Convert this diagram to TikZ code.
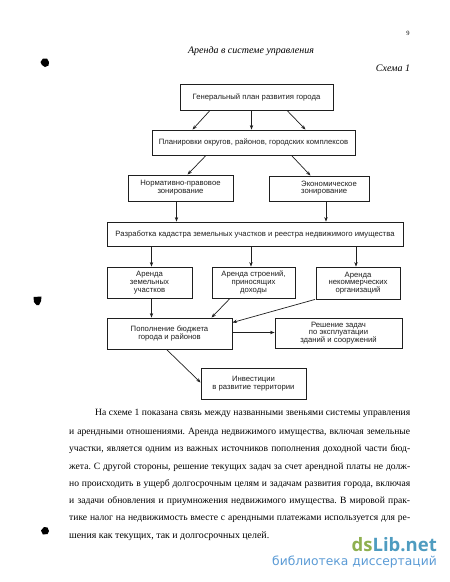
\documentclass[tikz,border=0pt]{standalone}
\usepackage{fontspec}
\setmainfont{Liberation Serif}
\newfontfamily\boxfont{Liberation Sans}
\newfontfamily\markfont{Open Sans}
\newfontfamily\subfont{DejaVu Sans}
\usetikzlibrary{arrows.meta}
\definecolor{markgreen}{HTML}{8FB050}
\definecolor{markblue}{HTML}{4F9CC0}
\definecolor{marksub}{HTML}{5B9BD5}
\definecolor{inkgrey}{gray}{0.12}
\tikzset{
	planbox/.style={rectangle, draw=inkgrey, line width=0.85pt, inner sep=0pt, align=center, font=\boxfont\fontsize{7.7}{7.8}\selectfont, text=inkgrey, fill=white},
	planarrow/.style={draw=inkgrey, line width=0.7pt, -{Stealth[length=4.5pt, width=3.4pt]}},
	blob/.style={fill=black},
}
\frenchspacing
\begin{document}
\begin{tikzpicture}[x=1pt, y=-1pt]

	\useasboundingbox (0, 0) rectangle (450, 582);

	% page head
	\node (pagenum) at (408, 33) {\fontsize{6.5}{8}\selectfont 9};
	\node (head) at (251, 51) {\fontsize{10}{12}\selectfont\itshape Аренда в системе управления};
	\node (scheme) at (393, 68.5) {\fontsize{10}{12}\selectfont\itshape Схема 1};

	% boxes, corners given directly
	\foreach \n/\a/\b/\c/\d/\t in {
		plan/180/84/333/110/{Генеральный план развития города},
		layout/152/130/355/155/{Планировки округов, районов, городских комплексов},
		legal/128/175/233/201/{Нормативно-правовое\\зонирование},
		econ/269/176/369/201/{\hspace*{20pt}\begin{tabular}{@{}l@{}}Экономическое\\зонирование\end{tabular}},
		cadastre/107/222/403/246/{Разработка кадастра земельных участков и реестра недвижимого имущества},
		land/107/267/192/298/{Аренда\\земельных\\участков},
		build/212/267/295/298/{Аренда строений,\\приносящих\\доходы},
		nonprofit/316/267/400/299/{Аренда\\некоммерческих\\организаций},
		budget/107/318/232/349/{Пополнение бюджета\\города и районов},
		tasks/275/318/402/348/{Решение задач\\по эксплуатации\\зданий и сооружений},
		invest/201/368/306/399/{Инвестиции\\в развитие территории}} {
		\node (\n) [planbox, minimum width=\c pt-\a pt, minimum height=\d pt-\b pt] at ({(\a+\c)/2}, {(\b+\d)/2}) {\t};
	}

	% arrows
	\draw [planarrow] (plan.south -| 210, 0) -- (layout.north -| 192.5, 0);
	\draw [planarrow] (plan.south -| 251.5, 0) -- (layout.north -| 251.5, 0);
	\draw [planarrow] (plan.south -| 287, 0) -- (layout.north -| 305.5, 0);
	\draw [planarrow] (layout.south -| 206, 0) -- (legal.north -| 187.5, 0);
	\draw [planarrow] (layout.south -| 291.5, 0) -- (econ.north -| 310.5, 0);
	\draw [planarrow] (legal.south -| 176.5, 0) -- (cadastre.north -| 176.5, 0);
	\draw [planarrow] (econ.south -| 326, 0) -- (cadastre.north -| 326, 0);
	\draw [planarrow] (cadastre.south -| 151.5, 0) -- (land.north -| 151.5, 0);
	\draw [planarrow] (cadastre.south -| 251, 0) -- (build.north -| 251, 0);
	\draw [planarrow] (cadastre.south -| 356, 0) -- (nonprofit.north -| 356, 0);
	\draw [planarrow] (land.south -| 151.5, 0) -- (budget.north -| 151.5, 0);
	\draw [planarrow] (build.south -| 230, 0) -- (budget.north -| 211.5, 0);
	\draw [planarrow] (nonprofit.south -| 315, 0) -- (budget.east |- 0, 322.5);
	\draw [planarrow] (budget.east |- 0, 332.5) -- (tasks.west |- 0, 332.5);
	\draw [planarrow] (budget.south -| 166.5, 0) -- (invest.west |- 0, 382.5);

	% body text
	\foreach \i/\x/\y/\w/\t in {
		1/95/413/315/{На схеме 1 показана связь между названными звеньями системы управления},
		2/69/432/341/{и арендными отношениями. Аренда недвижимого имущества, включая земельные},
		3/69/449.5/341/{участки, является одним из важных источников пополнения доходной части бюд-},
		4/69/467/341/{жета. С другой стороны, решение текущих задач за счет арендной платы не долж-},
		5/69/484/341/{но происходить в ущерб долгосрочным целям и задачам развития города, включая},
		6/69/501.5/341/{и задачи обновления и приумножения недвижимого имущества. В мировой прак-},
		7/69/519/341/{тике налог на недвижимость вместе с арендными платежами используется для ре-}} {
		\node (line\i) [anchor=west, inner sep=0pt] at (\x, \y) {\fontsize{9.6}{11}\selectfont\makebox[\w pt][s]{\t}};
	}
	\node (line8) [anchor=west, inner sep=0pt] at (69, 536) {\fontsize{9.9}{11}\selectfont шения как текущих, так и долгосрочных целей.};

	% specks
	\fill [blob] (40.5, 62) -- (43, 58.5) -- (47, 58.5) -- (49, 62) -- (48.5, 65.5) -- (45, 67) -- (42, 65) -- cycle;
	\fill [blob] (33.5, 297) -- (41.5, 296.5) -- (41, 301) -- (39, 305) -- (36.5, 305) -- (34, 302) -- cycle;
	\fill [blob] (41, 530.5) -- (44, 527) -- (47.5, 527.5) -- (49, 531) -- (47.5, 534) -- (43, 534.5) -- cycle;

	% watermark
	\node (mark) [anchor=east, inner sep=0pt] at (437, 545) {\markfont\bfseries\fontsize{18.5}{20}\selectfont\textcolor{markgreen}{ds}\textcolor{markblue}{Lib.net}};
	\node (marksub) [anchor=east, inner sep=0pt] at (437, 562) {\subfont\fontsize{12.3}{14}\selectfont\textcolor{marksub}{библиотека диссертаций}};

\end{tikzpicture}
\end{document}
